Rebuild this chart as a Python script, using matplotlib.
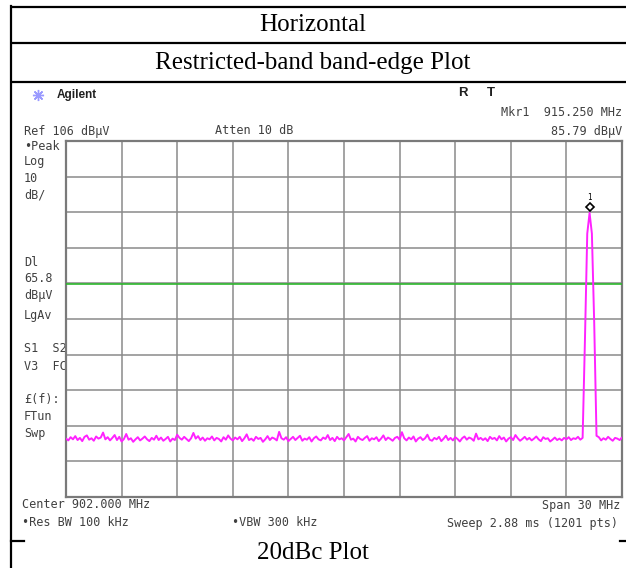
import numpy as np
import matplotlib
matplotlib.use("Agg")
import matplotlib.pyplot as plt

# Sweep settings.
center_mhz = 902.0
span_mhz = 30.0
ref_level = 106.0
db_per_div = 10.0
display_line = 65.8
marker_freq = 915.25
marker_level = 85.79

# Trace, hand-read every 0.125 MHz from 887 to 917 MHz (dBuV).
trace_db = [
    22.4, 21.9, 22.8, 22.2, 23.1, 22.0, 22.6, 21.7, 22.9, 23.3, 22.1, 22.5, 21.8, 23.0, 22.4, 22.7, 24.1, 22.2, 22.8, 21.9,
    22.6, 23.4, 22.0, 22.9, 21.6, 22.3, 23.7, 22.1, 22.5, 21.5, 22.2, 22.8, 21.9, 22.4, 23.0, 22.2, 21.7, 22.6, 22.1, 23.2,
    22.0, 22.7, 21.8, 22.3, 22.9, 21.6, 22.4, 22.0, 23.5, 22.6, 22.1, 22.9, 22.3, 21.7, 22.5, 24.0, 22.4, 23.1, 22.0, 22.7,
    21.8, 22.5, 22.2, 23.0, 21.9, 22.6, 22.3, 21.6, 22.8, 22.1, 23.3, 22.4, 21.9, 22.7, 22.2, 22.9, 21.7, 22.5, 23.6, 22.0,
    22.4, 21.8, 22.9, 22.3, 22.6, 21.5, 22.2, 23.1, 22.0, 22.7, 22.4, 21.9, 24.3, 22.5, 22.1, 22.8, 21.7, 22.3, 22.9, 22.0,
    22.6, 23.2, 21.8, 22.4, 22.1, 22.8, 21.6, 22.5, 23.0, 22.2, 21.9, 22.7, 22.3, 23.4, 22.0, 22.6, 21.7, 22.9, 22.2, 22.5,
    21.9, 22.8, 23.7, 22.1, 22.4, 21.6, 22.9, 22.3, 22.0, 22.6, 23.1, 21.8, 22.5, 22.2, 22.8, 21.7, 22.4, 23.3, 22.0, 22.7,
    22.3, 21.8, 22.6, 22.9, 22.1, 24.2, 22.5, 21.9, 22.7, 22.2, 23.0, 21.6, 22.4, 22.8, 22.0, 22.5, 23.5, 22.1, 21.8, 22.6,
    22.2, 22.9, 21.7, 22.4, 23.2, 22.0, 22.6, 21.9, 22.8, 22.3, 21.6, 22.5, 23.0, 22.1, 22.7, 22.4, 21.8, 23.8, 22.2, 22.6,
    22.0, 22.5, 21.7, 22.9, 22.3, 22.6, 21.9, 23.1, 22.2, 22.7, 21.6, 22.4, 22.8, 22.0, 23.4, 22.5, 21.8, 22.3, 22.9, 22.1,
    22.6, 21.9, 22.4, 23.0, 22.2, 21.7, 22.8, 22.3, 22.5, 21.6, 22.1, 22.7, 22.0, 22.4, 21.9, 22.6, 22.2, 22.8, 22.0, 22.5,
    22.3, 22.9, 22.1, 22.6, 50.0, 80.0, 85.79, 80.0, 55.0, 23.2, 22.8, 21.9, 22.5, 22.1, 22.9, 22.3, 21.8, 22.6, 22.4, 22.0,
    22.7,
]
trace_step = 0.125

left_notes = [("\u2022Peak", 146), ("Log", 162), ("10", 179), ("dB/", 195),
              ("Dl", 263), ("65.8", 279), ("dB\u00b5V", 295), ("LgAv", 315),
              ("S1  S2", 349), ("V3  FC", 366), ("\u00a3(f):", 399),
              ("FTun", 416), ("Swp", 433)]

W, H = 626, 568
fig = plt.figure(figsize=(W / 100, H / 100), dpi=100)
fig.patch.set_facecolor("white")

# Overlay in pixel coordinates for the table and the screen labels.
ov = fig.add_axes([0, 0, 1, 1])
ov.set_xlim(0, W)
ov.set_ylim(H, 0)
ov.axis("off")

for y in (6.5, 43, 82):
    ov.plot([11, W], [y, y], color="black", lw=1.6, solid_capstyle="butt")
ov.plot([11, 11], [6, H], color="black", lw=1.6)
ov.plot([11, 24], [541, 541], color="black", lw=1.6)
ov.plot([620, 625], [541, 541], color="black", lw=1.6)

serif = "Liberation Serif"
ov.text(313, 25, "Horizontal", family=serif, fontsize=18, ha="center", va="center")
ov.text(313, 63, "Restricted-band band-edge Plot", family=serif, fontsize=18, ha="center", va="center")
ov.text(313, 553, "20dBc Plot", family=serif, fontsize=18, ha="center", va="center")

mono = "DejaVu Sans Mono"
grey = "#404040"
ov.plot(38, 95, marker=(8, 2, 0), ms=8, color="#9a9aff", mew=1.0)
ov.text(57, 95, "Agilent", family="Liberation Sans", weight="bold", fontsize=8.5,
        color="#202020", va="center")
ov.text(458, 93, "R", family="Liberation Sans", weight="bold", fontsize=9.5, color="#202020", va="center")
ov.text(487, 93, "T", family="Liberation Sans", weight="bold", fontsize=9.5, color="#202020", va="center")
ov.text(622, 112, "Mkr1  915.250 MHz", family=mono, fontsize=8.5, color=grey, ha="right", va="center")
ov.text(24, 131, "Ref 106 dB\u00b5V", family=mono, fontsize=8.5, color=grey, va="center")
ov.text(215, 131, "Atten 10 dB", family=mono, fontsize=8.5, color=grey, va="center")
ov.text(622, 131, "85.79 dB\u00b5V", family=mono, fontsize=8.5, color=grey, ha="right", va="center")
for label, y in left_notes:
    ov.text(24, y, label, family=mono, fontsize=8.5, color=grey, va="center")
ov.text(22, 505, "Center 902.000 MHz", family=mono, fontsize=8.5, color=grey, va="center")
ov.text(620, 505, "Span 30 MHz", family=mono, fontsize=8.5, color=grey, ha="right", va="center")
ov.text(22, 523, "\u2022Res BW 100 kHz", family=mono, fontsize=8.5, color=grey, va="center")
ov.text(232, 523, "\u2022VBW 300 kHz", family=mono, fontsize=8.5, color=grey, va="center")
ov.text(618, 523, "Sweep 2.88 ms (1201 pts)", family=mono, fontsize=8.5, color=grey, ha="right", va="center")

# Spectrum graticule.
gx0, gx1, gy0, gy1 = 66, 622, 141, 497
ax = fig.add_axes([gx0 / W, 1 - gy1 / H, (gx1 - gx0) / W, (gy1 - gy0) / H])
f_start = center_mhz - span_mhz / 2
f_stop = center_mhz + span_mhz / 2
bottom = ref_level - 10 * db_per_div
ax.set_xlim(f_start, f_stop)
ax.set_ylim(bottom, ref_level)
ax.set_xticks(np.arange(f_start, f_stop + 0.01, span_mhz / 10))
ax.set_yticks(np.arange(bottom, ref_level + 0.01, db_per_div))
ax.tick_params(length=0, labelbottom=False, labelleft=False)
ax.grid(True, color="#8a8a8a", lw=1.1)
for s in ax.spines.values():
    s.set_color("#7a7a7a")
    s.set_linewidth(1.6)

freqs = f_start + trace_step * np.arange(len(trace_db))
ax.axhline(display_line, color="#2db82d", lw=1.2, zorder=3)
ax.plot(freqs, trace_db, color="#ff22ff", lw=1.4, zorder=4)
ax.plot(marker_freq, marker_level + 1.6, marker="D", ms=4.5, mfc="white",
        mec="black", mew=1.2, zorder=5, clip_on=False)
ax.text(marker_freq, marker_level + 4.2, "1", fontsize=5.5, family=mono,
        ha="center", va="center", color="black", zorder=5)

fig.savefig("out.png", dpi=100)
